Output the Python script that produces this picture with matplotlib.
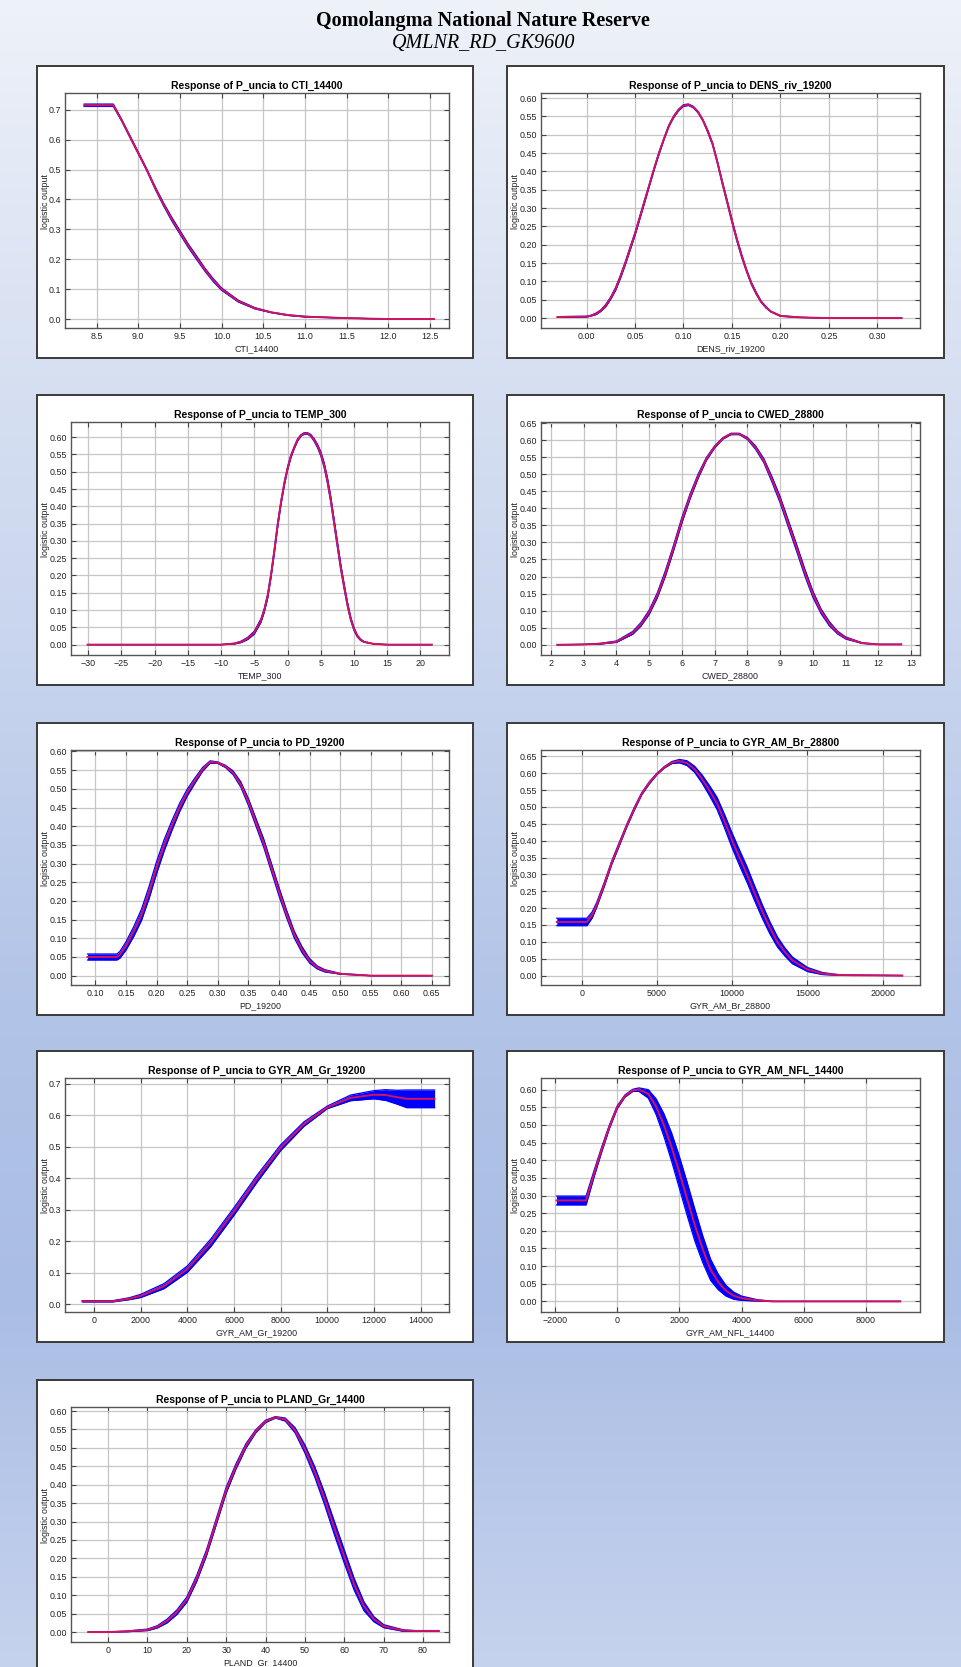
import numpy as np
import matplotlib
matplotlib.use("Agg")
import matplotlib.pyplot as plt
from matplotlib.patches import Rectangle

plt.rcParams['font.family'] = ['Liberation Sans', 'DejaVu Sans']

W, H = 961, 1667

page_title = "Qomolangma National Nature Reserve"
page_subtitle = "QMLNR_RD_GK9600"
species = "P_uncia"

# ---- data (x, mean, std) ----
cti_x = [8.35, 8.7, 8.8, 8.9, 9.0, 9.1, 9.2, 9.3, 9.4, 9.5, 9.6, 9.7, 9.8, 9.9, 10.0,
         10.2, 10.4, 10.6, 10.8, 11.0, 11.5, 12.0, 12.55]
cti_y = [0.715, 0.715, 0.665, 0.61, 0.555, 0.50, 0.44, 0.385, 0.335, 0.29, 0.245, 0.205,
         0.165, 0.13, 0.10, 0.06, 0.036, 0.022, 0.013, 0.008, 0.003, 0.0, 0.0]
cti_sd = [0.004, 0.004, 0.003, 0.003, 0.003, 0.003, 0.004, 0.005, 0.006, 0.006, 0.006, 0.006,
          0.005, 0.005, 0.004, 0.003, 0.002, 0.001, 0.001, 0.001, 0.0, 0.0, 0.0]

dens_x = [-0.03, 0.0, 0.005, 0.01, 0.015, 0.02, 0.025, 0.03, 0.035, 0.04, 0.045, 0.05, 0.055,
          0.06, 0.065, 0.07, 0.075, 0.08, 0.085, 0.09, 0.095, 0.10, 0.105, 0.11, 0.115, 0.12,
          0.125, 0.13, 0.135, 0.14, 0.145, 0.15, 0.155, 0.16, 0.165, 0.17, 0.175, 0.18, 0.185,
          0.19, 0.20, 0.22, 0.25, 0.325]
dens_y = [0.003, 0.004, 0.007, 0.012, 0.021, 0.035, 0.055, 0.08, 0.113, 0.15, 0.19, 0.23, 0.275,
          0.32, 0.365, 0.41, 0.452, 0.49, 0.525, 0.55, 0.568, 0.58, 0.582, 0.576, 0.562, 0.54,
          0.51, 0.475, 0.425, 0.37, 0.318, 0.265, 0.215, 0.17, 0.13, 0.095, 0.068, 0.045, 0.03,
          0.018, 0.006, 0.002, 0.0, 0.0]
dens_sd = [0.001, 0.001, 0.001, 0.002, 0.002, 0.003, 0.003, 0.004, 0.004, 0.004, 0.004, 0.004,
           0.004, 0.004, 0.003, 0.003, 0.003, 0.002, 0.002, 0.002, 0.002, 0.002, 0.002, 0.002,
           0.002, 0.002, 0.003, 0.003, 0.003, 0.004, 0.004, 0.004, 0.004, 0.004, 0.003, 0.003,
           0.003, 0.002, 0.002, 0.001, 0.001, 0.0, 0.0, 0.0]

temp_x = [-30.1, -10, -8, -7, -6, -5, -4, -3.5, -3, -2.5, -2, -1.5, -1, -0.5, 0, 0.5, 1, 1.5,
          2, 2.5, 3, 3.5, 4, 4.5, 5, 5.5, 6, 6.5, 7, 7.5, 8, 8.5, 9, 9.5, 10, 10.5, 11, 11.5,
          13, 15, 21.7]
temp_y = [0.0, 0.0, 0.003, 0.008, 0.018, 0.035, 0.07, 0.10, 0.14, 0.20, 0.27, 0.345, 0.41,
          0.465, 0.51, 0.545, 0.57, 0.592, 0.605, 0.611, 0.611, 0.605, 0.592, 0.575, 0.552,
          0.52, 0.475, 0.42, 0.355, 0.29, 0.225, 0.17, 0.118, 0.075, 0.045, 0.025, 0.014,
          0.008, 0.002, 0.0, 0.0]
temp_sd = [0.0, 0.0, 0.001, 0.002, 0.003, 0.004, 0.005, 0.005, 0.006, 0.006, 0.006, 0.006,
           0.005, 0.005, 0.004, 0.004, 0.003, 0.003, 0.002, 0.002, 0.002, 0.003, 0.004, 0.005,
           0.006, 0.007, 0.008, 0.008, 0.008, 0.008, 0.008, 0.007, 0.006, 0.005, 0.004, 0.003,
           0.002, 0.001, 0.0, 0.0, 0.0]

cwed_x = [2.2, 3.0, 3.5, 4.0, 4.5, 4.75, 5.0, 5.25, 5.5, 5.75, 6.0, 6.25, 6.5, 6.75, 7.0,
          7.25, 7.5, 7.75, 8.0, 8.25, 8.5, 8.75, 9.0, 9.25, 9.5, 9.75, 10.0, 10.25, 10.5,
          10.75, 11.0, 11.5, 12.0, 12.7]
cwed_y = [0.0, 0.001, 0.003, 0.009, 0.035, 0.06, 0.095, 0.145, 0.21, 0.285, 0.365, 0.435,
          0.495, 0.545, 0.58, 0.605, 0.618, 0.618, 0.605, 0.578, 0.54, 0.485, 0.425, 0.355,
          0.285, 0.213, 0.148, 0.098, 0.062, 0.036, 0.02, 0.005, 0.001, 0.001]
cwed_sd = [0.0, 0.0, 0.001, 0.002, 0.004, 0.005, 0.006, 0.007, 0.008, 0.008, 0.008, 0.007,
           0.006, 0.004, 0.003, 0.002, 0.002, 0.002, 0.003, 0.005, 0.006, 0.008, 0.009, 0.01,
           0.01, 0.01, 0.009, 0.007, 0.006, 0.004, 0.003, 0.001, 0.0, 0.0]

pd_x = [0.087, 0.135, 0.14, 0.15, 0.1625, 0.175, 0.1875, 0.20, 0.2125, 0.225, 0.2375, 0.25,
        0.2625, 0.275, 0.2875, 0.30, 0.3125, 0.325, 0.3375, 0.35, 0.3625, 0.375, 0.3875,
        0.40, 0.4125, 0.425, 0.4375, 0.45, 0.4625, 0.475, 0.50, 0.55, 0.65]
pd_y = [0.05, 0.05, 0.056, 0.08, 0.118, 0.162, 0.222, 0.29, 0.35, 0.402, 0.45, 0.49, 0.522,
        0.552, 0.572, 0.570, 0.56, 0.543, 0.512, 0.465, 0.41, 0.355, 0.29, 0.225, 0.165,
        0.11, 0.07, 0.04, 0.022, 0.013, 0.005, 0.0, 0.0]
pd_sd = [0.008, 0.008, 0.009, 0.011, 0.013, 0.015, 0.016, 0.016, 0.015, 0.013, 0.011, 0.009,
         0.007, 0.005, 0.003, 0.002, 0.003, 0.005, 0.007, 0.009, 0.01, 0.011, 0.011, 0.011,
         0.01, 0.009, 0.008, 0.006, 0.004, 0.003, 0.001, 0.0, 0.0]

br_x = [-1650, 350, 700, 1000, 1500, 2000, 2500, 3000, 3500, 4000, 4500, 5000, 5500, 6000,
        6500, 7000, 7500, 8000, 8500, 9000, 9500, 10000, 10500, 11000, 11500, 12000, 12500,
        13000, 13500, 14000, 15000, 16000, 17000, 18000, 21300]
br_y = [0.159, 0.159, 0.18, 0.21, 0.27, 0.335, 0.39, 0.445, 0.495, 0.54, 0.572, 0.598, 0.618,
        0.632, 0.636, 0.63, 0.612, 0.583, 0.548, 0.51, 0.457, 0.40, 0.348, 0.298, 0.243,
        0.19, 0.142, 0.10, 0.07, 0.045, 0.018, 0.006, 0.002, 0.001, 0.0]
br_sd = [0.011, 0.011, 0.009, 0.007, 0.006, 0.005, 0.005, 0.004, 0.004, 0.003, 0.003, 0.002,
         0.002, 0.003, 0.005, 0.007, 0.009, 0.012, 0.015, 0.018, 0.02, 0.022, 0.023, 0.023,
         0.022, 0.02, 0.018, 0.015, 0.012, 0.01, 0.006, 0.003, 0.001, 0.0, 0.0]

gr_x = [-500, 800, 1500, 2000, 3000, 4000, 5000, 6000, 7000, 8000, 9000, 10000, 11000,
        12000, 12500, 13000, 13400, 14600]
gr_y = [0.01, 0.01, 0.018, 0.027, 0.058, 0.112, 0.195, 0.295, 0.40, 0.497, 0.572, 0.625,
        0.655, 0.665, 0.664, 0.657, 0.652, 0.652]
gr_sd = [0.002, 0.002, 0.003, 0.005, 0.008, 0.01, 0.012, 0.012, 0.011, 0.009, 0.007, 0.004,
         0.009, 0.013, 0.017, 0.022, 0.028, 0.028]

nfl_x = [-1950, -1000, -750, -500, -250, 0, 250, 500, 700, 1000, 1250, 1500, 1750, 2000,
         2250, 2500, 2750, 3000, 3250, 3500, 3750, 4000, 4500, 5000, 9100]
nfl_y = [0.286, 0.286, 0.36, 0.43, 0.495, 0.55, 0.582, 0.598, 0.60, 0.588, 0.552, 0.50,
         0.437, 0.365, 0.29, 0.215, 0.148, 0.09, 0.055, 0.03, 0.016, 0.009, 0.003, 0.0, 0.0]
nfl_sd = [0.0125, 0.0125, 0.009, 0.007, 0.005, 0.004, 0.003, 0.003, 0.005, 0.012, 0.022,
          0.032, 0.04, 0.045, 0.047, 0.045, 0.038, 0.03, 0.022, 0.015, 0.01, 0.006, 0.002,
          0.0, 0.0]

pland_x = [-5, 0, 5, 10, 12.5, 15, 17.5, 20, 22.5, 25, 27.5, 30, 32.5, 35, 37.5, 40, 42.5,
           45, 47.5, 50, 52.5, 55, 57.5, 60, 62.5, 65, 67.5, 70, 75, 78, 84]
pland_y = [0.0, 0.0, 0.002, 0.006, 0.014, 0.03, 0.054, 0.088, 0.145, 0.215, 0.30, 0.385,
           0.45, 0.505, 0.545, 0.572, 0.583, 0.577, 0.548, 0.497, 0.435, 0.362, 0.282, 0.205,
           0.13, 0.07, 0.035, 0.016, 0.004, 0.003, 0.003]
pland_sd = [0.0, 0.0, 0.001, 0.002, 0.003, 0.005, 0.006, 0.007, 0.008, 0.008, 0.008, 0.008,
            0.007, 0.006, 0.004, 0.003, 0.002, 0.004, 0.007, 0.011, 0.014, 0.016, 0.018, 0.018,
            0.016, 0.012, 0.007, 0.004, 0.002, 0.001, 0.001]

variables = ["CTI_14400", "DENS_riv_19200", "TEMP_300", "CWED_28800", "PD_19200",
             "GYR_AM_Br_28800", "GYR_AM_Gr_19200", "GYR_AM_NFL_14400", "PLAND_Gr_14400"]
curves = [(cti_x, cti_y, cti_sd), (dens_x, dens_y, dens_sd), (temp_x, temp_y, temp_sd),
          (cwed_x, cwed_y, cwed_sd), (pd_x, pd_y, pd_sd), (br_x, br_y, br_sd),
          (gr_x, gr_y, gr_sd), (nfl_x, nfl_y, nfl_sd), (pland_x, pland_y, pland_sd)]

# axis ranges and tick labels as in the original plots
xlims = [(8.12, 12.73), (-0.047, 0.344), (-32.6, 24.3), (1.70, 13.27), (0.060, 0.678),
         (-2700, 22475), (-1245, 15217), (-2449, 9733), (-9.4, 86.6)]
ylims = [(-0.030, 0.756), (-0.027, 0.614), (-0.030, 0.644), (-0.030, 0.653), (-0.025, 0.604),
         (-0.028, 0.669), (-0.024, 0.718), (-0.030, 0.633), (-0.027, 0.611)]
xticks = [[8.5, 9.0, 9.5, 10.0, 10.5, 11.0, 11.5, 12.0, 12.5],
          [0.00, 0.05, 0.10, 0.15, 0.20, 0.25, 0.30],
          [-30, -25, -20, -15, -10, -5, 0, 5, 10, 15, 20],
          [2, 3, 4, 5, 6, 7, 8, 9, 10, 11, 12, 13],
          [0.10, 0.15, 0.20, 0.25, 0.30, 0.35, 0.40, 0.45, 0.50, 0.55, 0.60, 0.65],
          [0, 5000, 10000, 15000, 20000],
          [0, 2000, 4000, 6000, 8000, 10000, 12000, 14000],
          [-2000, 0, 2000, 4000, 6000, 8000],
          [0, 10, 20, 30, 40, 50, 60, 70, 80]]
xfmt = ["{:.1f}", "{:.2f}", "{:d}", "{:d}", "{:.2f}", "{:d}", "{:d}", "{:d}", "{:d}"]
yticks_1dec = [0.0, 0.1, 0.2, 0.3, 0.4, 0.5, 0.6, 0.7]
yticks_60 = [0.00, 0.05, 0.10, 0.15, 0.20, 0.25, 0.30, 0.35, 0.40, 0.45, 0.50, 0.55, 0.60]
yticks_65 = yticks_60 + [0.65]
yticks = [yticks_1dec, yticks_60, yticks_60, yticks_65, yticks_60, yticks_65,
          yticks_1dec, yticks_60, yticks_60]

fig = plt.figure(figsize=(W / 100, H / 100), dpi=100)

# gradient background
bg = fig.add_axes([0, 0, 1, 1], zorder=-10)
stops_y = [0, 300, 650, 1000, 1300, 1667]
stops_c = ['#eef2f9', '#dbe3f3', '#c9d5ee', '#b2c4e7', '#aabde4', '#c6d3ee']
rgb = np.array([matplotlib.colors.to_rgb(c) for c in stops_c])
yy = np.arange(H)
grad = np.stack([np.interp(yy, stops_y, rgb[:, k]) for k in range(3)], axis=-1)
bg.imshow(grad[:, None, :], aspect='auto', extent=[0, 1, 0, 1])
bg.axis('off')

fig.text(0.503, 1 - 26 / H, page_title, ha='center', va='baseline', fontsize=14.5,
         fontweight='bold', family='Liberation Serif')
fig.text(0.503, 1 - 48 / H, page_subtitle, ha='center', va='baseline', fontsize=14.5,
         style='italic', family='Liberation Serif')


def fbox(x0, y0, x1, y1):
    return [x0 / W, 1 - y1 / H, (x1 - x0) / W, (y1 - y0) / H]


def fmt_tick(fmt, v):
    return fmt.format(v).replace('-', '\u2212')


col_x = [(37, 473), (507, 944)]
row_y = [(66, 358), (395, 685), (723, 1015), (1051, 1342), (1380, 1672)]

for i, var in enumerate(variables):
    r, c = divmod(i, 2)
    px0, px1 = col_x[c]
    py0, py1 = row_y[r]
    fig.add_artist(Rectangle((px0 / W, 1 - py1 / H), (px1 - px0) / W, (py1 - py0) / H,
                             transform=fig.transFigure, facecolor='white',
                             edgecolor='#3a3a3a', linewidth=1.4, zorder=-5))
    left = px0 + (28 if yticks[i] is yticks_1dec else 34)
    ax_l, ax_r, ax_t, ax_b = left, px1 - 24, py0 + 27, py1 - 30
    ax = fig.add_axes(fbox(ax_l, ax_t, ax_r, ax_b))

    x, m, s = [np.array(v, dtype=float) for v in curves[i]]
    ax.fill_between(x, m - s, m + s, color='#0000ff', linewidth=0, zorder=2)
    ax.plot(x, m + s, color='#0000ff', lw=0.9, zorder=2, solid_joinstyle='round')
    ax.plot(x, m - s, color='#0000ff', lw=0.9, zorder=2, solid_joinstyle='round')
    ax.plot(x, m, color='#d4145a', lw=1.4, zorder=3, solid_joinstyle='round')

    ax.set_xlim(*xlims[i])
    ax.set_ylim(*ylims[i])
    ax.set_xticks(xticks[i])
    ax.set_xticklabels([fmt_tick(xfmt[i], v) for v in xticks[i]])
    ax.set_yticks(yticks[i])
    ydec = "{:.1f}" if yticks[i] is yticks_1dec else "{:.2f}"
    ax.set_yticklabels([ydec.format(v) for v in yticks[i]])
    ax.grid(True, color='#c6c6c6', linewidth=0.9)
    ax.set_axisbelow(True)
    ax.tick_params(direction='in', length=3.5, width=0.8, top=True, right=True,
                   labelsize=6.4, pad=3, color='#444444', labelcolor='#222222')
    for sp in ax.spines.values():
        sp.set_color('#555555')
        sp.set_linewidth(1.0)

    ax.set_title("Response of %s to %s" % (species, var), fontsize=7.5,
                 fontweight='bold', pad=3)
    ax.set_xlabel(var, fontsize=6.4, labelpad=2, color='#222222')
    ax.set_ylabel("logistic output", fontsize=6.4, color='#222222')
    axw = ax_r - ax_l
    ax.yaxis.set_label_coords((px0 + 12.5 - ax_l) / axw, 0.54)

fig.savefig("out.png", dpi=100)
